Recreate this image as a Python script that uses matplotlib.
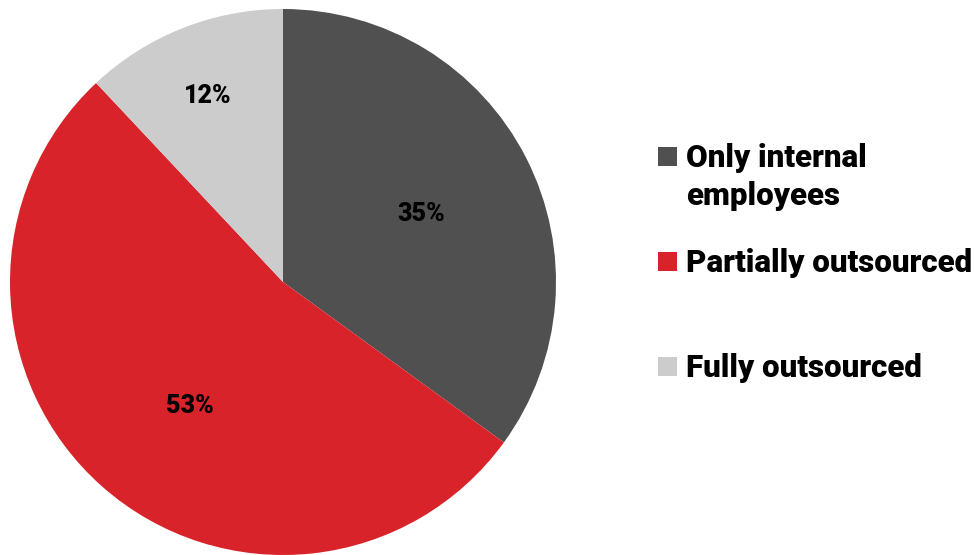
import matplotlib
matplotlib.use("Agg")
import matplotlib.pyplot as plt
from matplotlib.patches import Rectangle
import numpy as np

categories = ["Only internal\nemployees", "Partially outsourced", "Fully outsourced"]
values = [35, 53, 12]
labels = ["35%", "53%", "12%"]
colors = ["#505050", "#d9232b", "#cccccc"]
label_radius = [0.57, 0.56, 0.745]
label_angle_shift = [0, 4, 0]

W, H = 978, 555
fig = plt.figure(figsize=(W / 100, H / 100), dpi=100)
fig.patch.set_facecolor("white")

cx, cy, r = 283, 273, 273
ax = fig.add_axes([(cx - r) / W, (cy - r) / H, 2 * r / W, 2 * r / H])
wedges, _ = ax.pie(values, colors=colors, startangle=90, counterclock=False,
                   radius=1, wedgeprops=dict(linewidth=0))
ax.set_xlim(-1, 1)
ax.set_ylim(-1, 1)
ax.set_aspect("equal")
ax.axis("off")

dy = 3 / r
for w, lab, lr, sh in zip(wedges, labels, label_radius, label_angle_shift):
    th = np.deg2rad((w.theta1 + w.theta2) / 2 + sh)
    ax.text(lr * np.cos(th), lr * np.sin(th) - dy, lab, ha="center", va="center",
            fontsize=18, fontweight="black", family="Roboto", color="black")

# legend
sq = 19
ys = [156, 261, 366]
for lab, col, y in zip(categories, colors, ys):
    fig.patches.append(Rectangle(((658) / W, (H - y - sq / 2) / H), sq / W, sq / H,
                                 transform=fig.transFigure, facecolor=col,
                                 edgecolor="none"))
    lines = lab.split("\n")
    for i, line in enumerate(lines):
        fig.text(686 / W, (H - y - 2 - 38 * i) / H, line, ha="left", va="center",
                 fontsize=22.5, fontweight="black", family="Roboto", color="black")

fig.savefig("out.png", dpi=100, facecolor="white")
